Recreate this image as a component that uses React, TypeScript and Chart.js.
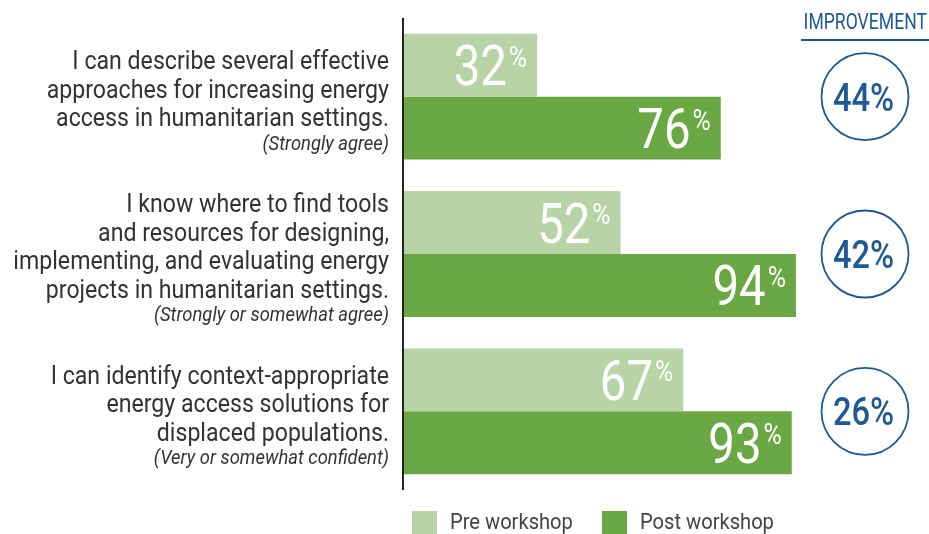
import React, { useEffect, useRef } from "react";
import { Chart, registerables } from "chart.js";
Chart.register(...registerables);

const categoryLines = [
  ["I can describe several effective", "approaches for increasing energy", "access in humanitarian settings."],
  ["I know where to find tools", "and resources for designing,", "implementing, and evaluating energy", "projects in humanitarian settings."],
  ["I can identify context-appropriate", "energy access solutions for", "displaced populations."],
];
const qualifiers = ["(Strongly agree)", "(Strongly or somewhat agree)", "(Very or somewhat confident)"];
const preWorkshop = [32, 52, 67];
const postWorkshop = [76, 94, 93];
const improvement = [44, 42, 26];
const seriesLabels = ["Pre workshop", "Post workshop"];
const headerLabel = "IMPROVEMENT";

const PRE_COLOR = "#b8d3a5";
const POST_COLOR = "#6aa844";
const BLUE = "#1d5997";
const TEXT = "#333333";
const FONT = "Roboto, 'Open Sans', sans-serif";

function drawText(ctx: CanvasRenderingContext2D, text: string, x: number, y: number, font: string, color: string, align: CanvasTextAlign, sx: number) {
  ctx.save();
  ctx.font = font;
  ctx.fillStyle = color;
  ctx.textAlign = align;
  ctx.textBaseline = "alphabetic";
  ctx.translate(x, y);
  ctx.scale(sx, 1);
  ctx.fillText(text, 0, 0);
  ctx.restore();
}
function textW(ctx: CanvasRenderingContext2D, text: string, font: string, sx: number) {
  ctx.save();
  ctx.font = font;
  const w = ctx.measureText(text).width * sx;
  ctx.restore();
  return w;
}

const overlay = {
  id: "overlay",
  afterDatasetsDraw(chart: any) {
    const ctx: CanvasRenderingContext2D = chart.ctx;
    const area = chart.chartArea;
    const yScale = chart.scales.y;
    // axis line
    ctx.save();
    ctx.strokeStyle = "#222";
    ctx.lineWidth = 2;
    ctx.beginPath();
    ctx.moveTo(area.left - 0.5, area.top);
    ctx.lineTo(area.left - 0.5, area.bottom);
    ctx.stroke();
    ctx.restore();

    // value labels
    chart.data.datasets.forEach((ds: any, di: number) => {
      const meta = chart.getDatasetMeta(di);
      meta.data.forEach((bar: any, i: number) => {
        const v = ds.data[i];
        const right = bar.x - 10;
        const pctFont = `29px ${FONT}`;
        const numFont = `55px ${FONT}`;
        const pw = textW(ctx, "%", pctFont, 0.86);
        drawText(ctx, "%", right, bar.y + 1.5, pctFont, "#ffffff", "right", 0.86);
        drawText(ctx, String(v), right - pw - 2, bar.y + 20, numFont, "#ffffff", "right", 0.86);
      });
    });

    // category labels & circles
    categoryLines.forEach((lines, i) => {
      const c = yScale.getPixelForValue(i);
      const n = lines.length;
      let y = c - 27.5 - (n - 3) * 14.25;
      lines.forEach((ln) => {
        drawText(ctx, ln, 389, y, `25px ${FONT}`, TEXT, "right", 0.925);
        y += 28.5;
      });
      y -= 28.5;
      drawText(ctx, qualifiers[i], 389, y + 23.5, `italic 20px ${FONT}`, TEXT, "right", 0.92);

      // circle
      ctx.save();
      ctx.strokeStyle = BLUE;
      ctx.lineWidth = 1.8;
      ctx.beginPath();
      ctx.arc(865, c, 43.5, 0, Math.PI * 2);
      ctx.stroke();
      ctx.restore();
      drawText(ctx, `${improvement[i]}%`, 863.5, c + 14, `500 38px ${FONT}`, BLUE, "center", 0.86);
    });

    // header
    drawText(ctx, headerLabel, 927, 29, `22px ${FONT}`, BLUE, "right", 0.8);
    ctx.save();
    ctx.strokeStyle = BLUE;
    ctx.lineWidth = 2;
    ctx.beginPath();
    ctx.moveTo(801, 40);
    ctx.lineTo(929, 40);
    ctx.stroke();
    ctx.restore();

    // legend
    const legendX = [412, 602];
    const colors = [PRE_COLOR, POST_COLOR];
    seriesLabels.forEach((lab, i) => {
      ctx.save();
      ctx.fillStyle = colors[i];
      ctx.fillRect(legendX[i], 511, 25, 25);
      ctx.restore();
      drawText(ctx, lab, legendX[i] + 38, 529, `22px ${FONT}`, "#444444", "left", 0.915);
    });
  },
};

export default function App() {
  const ref = useRef<HTMLCanvasElement | null>(null);
  useEffect(() => {
    if (!ref.current) return;
    const chart = new Chart(ref.current, {
      type: "bar",
      data: {
        labels: categoryLines.map((l) => l.join(" ")),
        datasets: [
          { label: seriesLabels[0], data: preWorkshop, backgroundColor: PRE_COLOR, borderWidth: 0, categoryPercentage: 0.8, barPercentage: 1.0 },
          { label: seriesLabels[1], data: postWorkshop, backgroundColor: POST_COLOR, borderWidth: 0, categoryPercentage: 0.8, barPercentage: 1.0 },
        ],
      },
      options: {
        indexAxis: "y",
        responsive: false,
        animation: false,
        layout: { padding: { left: 403.5, right: 108, top: 18, bottom: 44 } },
        scales: {
          x: { display: false, min: 0, max: 100 },
          y: { display: false },
        },
        plugins: { legend: { display: false }, tooltip: { enabled: false } },
      },
      plugins: [overlay],
    } as any);
    return () => chart.destroy();
  }, []);
  return (
    <div style={{ position: "fixed", left: 0, top: 0, width: 929, height: 534, background: "#fff" }}>
      <canvas ref={ref} width={929} height={534} style={{ width: 929, height: 534 }} />
    </div>
  );
}
